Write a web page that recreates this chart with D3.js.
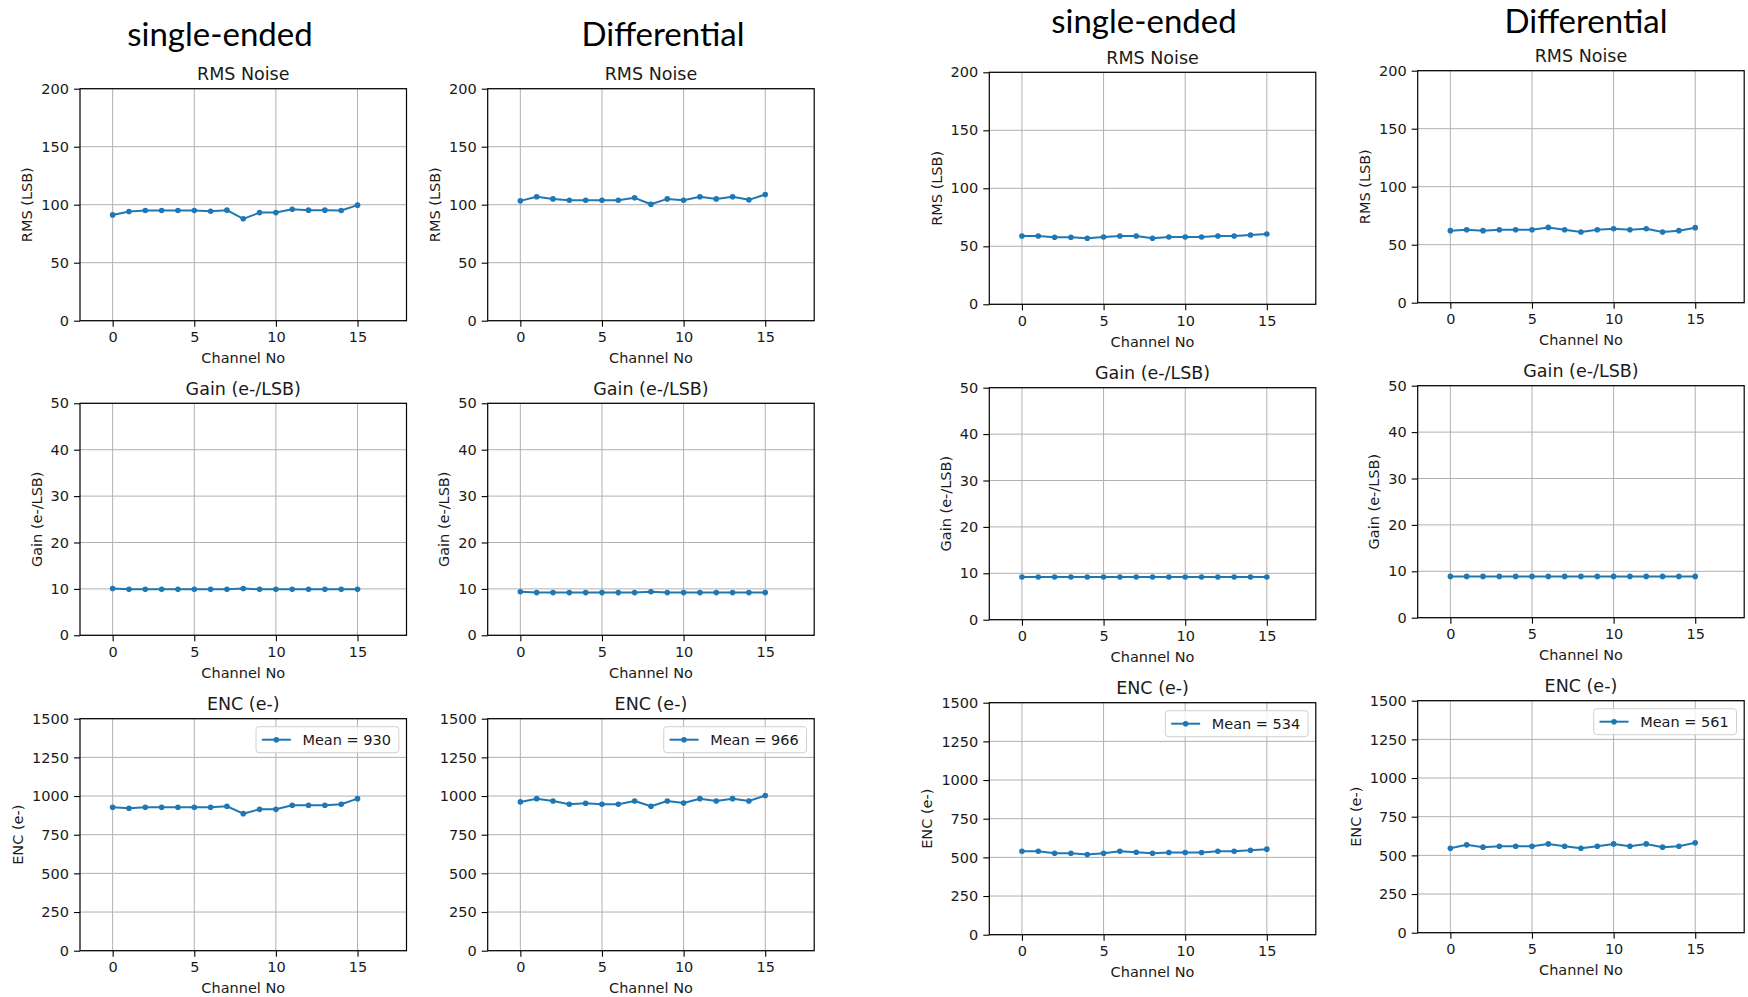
<!DOCTYPE html>
<html>
<head>
<meta charset="utf-8">
<script src="https://cdn.jsdelivr.net/npm/d3@7"></script>
<style>
  body { margin: 0; background: #fff; }
  svg { display: block; }
</style>
</head>
<body>
<svg id="chart"></svg>
<script>
let width = 1748, height = 997;

// channel numbers on the x axis
const channels = [0, 1, 2, 3, 4, 5, 6, 7, 8, 9, 10, 11, 12, 13, 14, 15];
const xTicks = [0, 5, 10, 15];

// left half of the slide
const rmsSeLeft = [91.2, 94.1, 95.0, 95.0, 95.0, 95.0, 94.4, 95.3, 87.8, 93.2, 93.2, 96.1, 95.3, 95.3, 95.0, 99.6];
const rmsDiffLeft = [103.3, 106.8, 105.0, 103.9, 103.9, 103.9, 103.9, 105.9, 100.4, 105.0, 103.9, 106.8, 105.0, 106.8, 104.2, 108.8];
const gainSeLeft = [10.1, 9.9, 9.9, 9.9, 9.9, 9.9, 9.9, 9.9, 10.1, 9.9, 9.9, 9.9, 9.9, 9.9, 9.9, 9.9];
const gainDiffLeft = [9.4, 9.2, 9.2, 9.2, 9.2, 9.2, 9.2, 9.2, 9.4, 9.2, 9.2, 9.2, 9.2, 9.2, 9.2, 9.2];
const encSeLeft = [927, 921, 927, 927, 927, 927, 927, 934, 886, 914, 914, 940, 940, 940, 947, 983];
const encDiffLeft = [962, 983, 968, 947, 953, 947, 947, 968, 934, 968, 955, 983, 968, 983, 968, 1003];

// right half of the slide
const rmsSeRight = [58.9, 58.9, 57.8, 57.8, 56.9, 58.0, 58.9, 58.9, 56.9, 58.0, 58.0, 58.0, 58.9, 58.9, 59.8, 60.6];
const rmsDiffRight = [62.1, 62.9, 62.1, 62.9, 62.9, 62.9, 64.9, 62.9, 60.9, 62.9, 63.8, 62.9, 63.8, 60.9, 62.1, 64.7];
const gainSeRight = [9.2, 9.2, 9.2, 9.2, 9.2, 9.2, 9.2, 9.2, 9.2, 9.2, 9.2, 9.2, 9.2, 9.2, 9.2, 9.2];
const gainDiffRight = [8.9, 8.9, 8.9, 8.9, 8.9, 8.9, 8.9, 8.9, 8.9, 8.9, 8.9, 8.9, 8.9, 8.9, 8.9, 8.9];
const encSeRight = [540, 540, 527, 527, 518, 527, 540, 533, 527, 531, 531, 531, 540, 540, 546, 553];
const encDiffRight = [546, 568, 553, 559, 559, 559, 574, 559, 546, 559, 574, 559, 574, 553, 559, 581];

// y axes of the three rows
const rmsTicks = [0, 50, 100, 150, 200];
const gainTicks = [0, 10, 20, 30, 40, 50];
const encTicks = [0, 250, 500, 750, 1000, 1250, 1500];

const rowTitles = ["RMS Noise", "Gain (e-/LSB)", "ENC (e-)"];
const rowYLabels = ["RMS (LSB)", "Gain (e-/LSB)", "ENC (e-)"];
const legendLabels = ["Mean = 930", "Mean = 966", "Mean = 534", "Mean = 561"];
const headings = ["single-ended", "Differential", "single-ended", "Differential"];

const blue = "#1f77b4";
const textColor = "#1a1a1a";
const tickFont = 14.5, titleFont = 17.5;

let svg = d3.select("#chart")
  .attr("width", width)
  .attr("height", height)
  .attr("viewBox", [0, 0, width, height]);

svg.append("defs").append("clipPath")
  .attr("id", "cutLeft")
  .append("rect")
  .attr("x", 422).attr("y", 600).attr("width", 200).attr("height", 400);

// column lefts and the top of each row (the two halves were pasted at slightly different heights)
const colLeft = [80, 487.7, 989.3, 1417.7];
const colTops = [
  [88.7, 403.3, 718.7],
  [88.7, 403.3, 718.7],
  [72.3, 387.7, 702.7],
  [70.7, 385.7, 700.7]
];
const plotW = 326.5, plotH = 232;

const headingPos = [[220, 45.7], [663, 45.7], [1144, 32.5], [1586, 32.5]];

const series = [
  [rmsSeLeft, gainSeLeft, encSeLeft],
  [rmsDiffLeft, gainDiffLeft, encDiffLeft],
  [rmsSeRight, gainSeRight, encSeRight],
  [rmsDiffRight, gainDiffRight, encDiffRight]
];
const rowTicks = [rmsTicks, gainTicks, encTicks];

function draw_panel(col, row) {
  const left = colLeft[col], top = colTops[col][row];
  const values = series[col][row];
  const ticks = rowTicks[row];

  let x = d3.scaleLinear().domain([-2, 18]).range([left, left + plotW]);
  let y = d3.scaleLinear().domain([0, d3.max(ticks)]).range([top + plotH, top]);

  let g = svg.append("g");

  // grid
  g.append("g").selectAll("line")
    .data(xTicks)
    .join("line")
    .attr("x1", d => x(d)).attr("x2", d => x(d))
    .attr("y1", top).attr("y2", top + plotH)
    .attr("stroke", "#b0b0b0").attr("stroke-width", 1);
  g.append("g").selectAll("line")
    .data(ticks)
    .join("line")
    .attr("x1", left).attr("x2", left + plotW)
    .attr("y1", d => y(d)).attr("y2", d => y(d))
    .attr("stroke", "#b0b0b0").attr("stroke-width", 1);

  // axes
  let yAxis = g.append("g")
    .attr("transform", `translate(${left},0)`)
    .call(d3.axisLeft(y).tickValues(ticks).tickSize(6).tickPadding(5).tickFormat(d3.format("d")))
    .call(a => a.select(".domain").remove());
  let xAxis = g.append("g")
    .attr("transform", `translate(0,${top + plotH})`)
    .call(d3.axisBottom(x).tickValues(xTicks).tickSize(6).tickPadding(5))
    .call(a => a.select(".domain").remove());
  [yAxis, xAxis].forEach(a => {
    a.attr("font-family", "DejaVu Sans").attr("font-size", tickFont);
    a.selectAll("line").attr("stroke", "#000").attr("stroke-width", 1.1);
    a.selectAll("text").attr("fill", textColor);
  });

  // frame
  g.append("rect")
    .attr("x", left).attr("y", top)
    .attr("width", plotW).attr("height", plotH)
    .attr("fill", "none").attr("stroke", "#000").attr("stroke-width", 1.2);

  // series
  const line = d3.line().x((d, i) => x(channels[i])).y(d => y(d));
  g.append("path")
    .datum(values)
    .attr("d", line)
    .attr("fill", "none")
    .attr("stroke", blue)
    .attr("stroke-width", 2)
    .attr("stroke-linejoin", "round");
  g.append("g").selectAll("circle")
    .data(values)
    .join("circle")
    .attr("cx", (d, i) => x(channels[i]))
    .attr("cy", d => y(d))
    .attr("r", 2.8)
    .attr("fill", blue);

  // titles
  g.append("text")
    .attr("x", left + plotW / 2).attr("y", top - 8.5)
    .attr("text-anchor", "middle")
    .attr("font-family", "DejaVu Sans").attr("font-size", titleFont)
    .attr("fill", textColor)
    .text(rowTitles[row]);
  g.append("text")
    .attr("x", left + plotW / 2).attr("y", top + plotH + 42.7)
    .attr("text-anchor", "middle")
    .attr("font-family", "DejaVu Sans").attr("font-size", tickFont)
    .attr("fill", textColor)
    .text("Channel No");

  const labelWidth = String(d3.max(ticks)).length * 0.636 * tickFont;
  const lx = left - 11.5 - labelWidth - 8.5;
  let ylab = g.append("text")
    .attr("transform", `translate(${lx},${top + plotH / 2}) rotate(-90)`)
    .attr("text-anchor", "middle")
    .attr("font-family", "DejaVu Sans").attr("font-size", tickFont)
    .attr("fill", textColor)
    .text(rowYLabels[row]);
  if (col == 1 && row == 2) ylab.attr("clip-path", "url(#cutLeft)");

  // legend with the mean (ENC row only)
  if (row == 2) {
    const fs = tickFont;
    let lg = g.append("g");
    let box = lg.append("rect");
    let txt = lg.append("text")
      .attr("font-family", "DejaVu Sans").attr("font-size", fs)
      .attr("fill", textColor)
      .text(legendLabels[col]);
    const tw = txt.node().getComputedTextLength();
    const bw = 0.4 * fs + 2 * fs + 0.8 * fs + tw + 0.4 * fs + 2;
    const bh = 26;
    const bx = left + plotW - 7.7 - bw, by = top + 8;
    box.attr("x", bx).attr("y", by).attr("width", bw).attr("height", bh)
      .attr("rx", 3)
      .attr("fill", "#fff").attr("fill-opacity", 0.8)
      .attr("stroke", "#d0d0d0").attr("stroke-width", 1);
    const cy = by + bh / 2;
    const hx = bx + 0.4 * fs;
    lg.append("line")
      .attr("x1", hx).attr("x2", hx + 2 * fs)
      .attr("y1", cy).attr("y2", cy)
      .attr("stroke", blue).attr("stroke-width", 2);
    lg.append("circle")
      .attr("cx", hx + fs).attr("cy", cy).attr("r", 2.8).attr("fill", blue);
    txt.attr("x", hx + 2.8 * fs).attr("y", cy + 0.36 * fs);
  }
}

for (let c = 0; c < 4; c++) {
  for (let r = 0; r < 3; r++) draw_panel(c, r);
}

// column headings from the slide
svg.append("g")
  .selectAll("text")
  .data(headings)
  .join("text")
  .attr("x", (d, i) => headingPos[i][0])
  .attr("y", (d, i) => headingPos[i][1])
  .attr("text-anchor", "middle")
  .attr("font-family", "Lato, 'Open Sans', sans-serif")
  .attr("font-size", 33)
  .attr("fill", "#000")
  .text(d => d);
</script>
</body>
</html>
